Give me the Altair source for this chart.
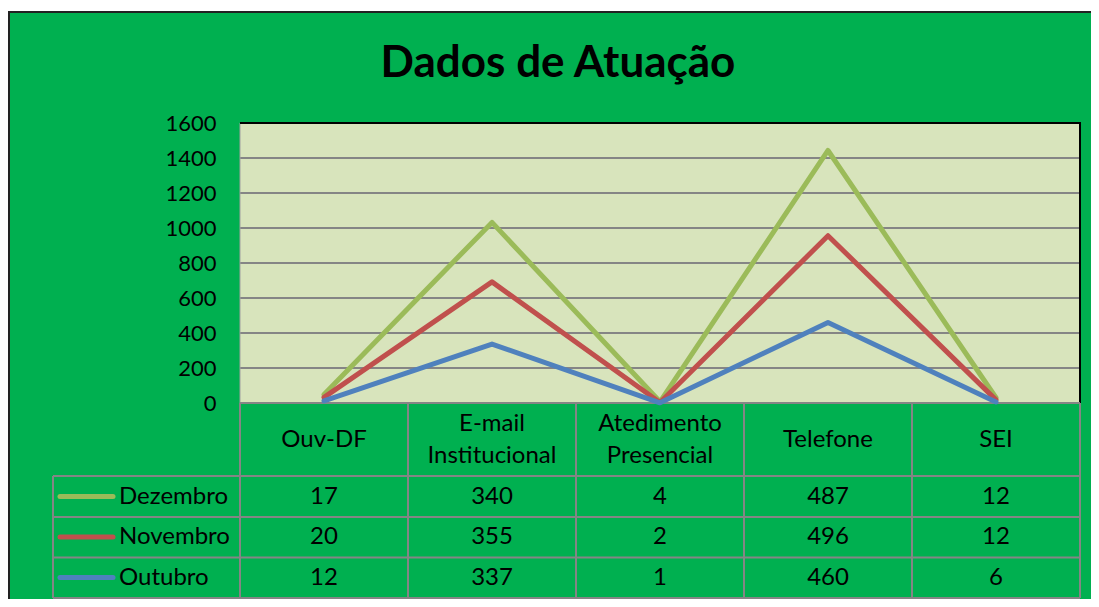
import altair as alt
import pandas as pd

# ---- data ----
categories = ["Ouv-DF", "E-mail Institucional", "Atedimento Presencial", "Telefone", "SEI"]
series_names = ["Dezembro", "Novembro", "Outubro"]
dezembro = [17, 340, 4, 487, 12]
novembro = [20, 355, 2, 496, 12]
outubro = [12, 337, 1, 460, 6]
y_ticks = [0, 200, 400, 600, 800, 1000, 1200, 1400, 1600]
gridline_values = [200, 400, 600, 800, 1000, 1200, 1400]
series_colors = ["#9BBB59", "#C0504D", "#4F81BD"]
stack_rank = {"Outubro": 0, "Novembro": 1, "Dezembro": 2}

rows = []
for name, vals in zip(series_names, [dezembro, novembro, outubro]):
    for i, (c, v) in enumerate(zip(categories, vals)):
        rows.append({"category": c, "series": name, "value": v,
                     "rank": stack_rank[name], "idx": i})
df = pd.DataFrame(rows)
cat_df = pd.DataFrame({"category": categories})
ser_df = pd.DataFrame({"series": series_names})
grid_df = pd.DataFrame({"tick": gridline_values})
one = pd.DataFrame({"a": [0]})

FONT = "Lato"
GRAY = "#858585"
W, H = 840, 280
TB = 475  # table bottom (relative to plot top)

x_scale = alt.Scale(type="band", domain=categories, paddingInner=0, paddingOuter=0)
x_center = alt.X("category:N", scale=x_scale, axis=None, bandPosition=0.5)
x_edge = alt.X("category:N", scale=x_scale, axis=None, bandPosition=0)
row_scale = alt.Scale(type="point", domain=series_names, range=[373.5, 454.5], padding=0)
color_scale = alt.Scale(domain=series_names, range=series_colors)

# background panel
bg = alt.Chart(one).mark_rect(fill="#00B050", stroke="#222222", strokeWidth=2).encode(
    x=alt.value(-231), x2=alt.value(900), y=alt.value(-111), y2=alt.value(520))
plotfill = alt.Chart(one).mark_rect(fill="#D8E4BC").encode(
    x=alt.value(0), x2=alt.value(W), y=alt.value(0), y2=alt.value(H))

grid = alt.Chart(grid_df).mark_rule(color=GRAY, strokeWidth=2).encode(
    y=alt.Y("tick:Q", scale=alt.Scale(domain=[0, 1600], nice=False), axis=None))

left_edge = alt.Chart(one).mark_rule(color="#A0A0A0", strokeWidth=1).encode(
    x=alt.value(0), y=alt.value(0), y2=alt.value(H))
top_border = alt.Chart(one).mark_rule(color="black", strokeWidth=2).encode(
    x=alt.value(0), x2=alt.value(W + 1), y=alt.value(0))
right_border = alt.Chart(one).mark_rule(color="black", strokeWidth=2).encode(
    x=alt.value(W), y=alt.value(0), y2=alt.value(H))


def hrule(y, x0, x1):
    return alt.Chart(one).mark_rule(color=GRAY, strokeWidth=2).encode(
        x=alt.value(x0), x2=alt.value(x1), y=alt.value(y))


def vrule(x, y0, y1):
    return alt.Chart(one).mark_rule(color=GRAY, strokeWidth=2).encode(
        x=alt.value(x), y=alt.value(y0), y2=alt.value(y1))


table_lines = [
    hrule(H, 0, W),
    hrule(353, -187, W),
    hrule(394, -187, W),
    hrule(434.5, -187, W),
    hrule(TB, -187, W),
    vrule(W, H, TB),
    vrule(-187, 353, TB),
]
vcols = alt.Chart(cat_df).mark_rule(color=GRAY, strokeWidth=2).encode(
    x=x_edge, y=alt.value(H), y2=alt.value(TB))

lines = alt.Chart(df).transform_window(
    cum="sum(value)", groupby=["category"], sort=[alt.SortField("rank")]
).mark_line(strokeWidth=5, strokeCap="round", strokeJoin="round").encode(
    x=x_center,
    y=alt.Y("cum:Q", scale=alt.Scale(domain=[0, 1600], nice=False),
            axis=alt.Axis(values=y_ticks, format="d", grid=False, ticks=False,
                          domain=False, labelPadding=24, labelFont=FONT,
                          labelFontSize=22, labelColor="black", title=None,
                          zindex=1)),
    color=alt.Color("series:N", scale=color_scale, legend=None),
    order=alt.Order("idx:Q"),
)

headers_one = alt.Chart(cat_df).transform_filter(
    "indexof(datum.category, ' ') < 0"
).mark_text(font=FONT, fontSize=24, color="black", baseline="middle",
            align="center").encode(
    x=x_center, y=alt.value(316.5), text="category:N")

headers_two = alt.Chart(cat_df).transform_filter(
    "indexof(datum.category, ' ') >= 0"
).mark_text(font=FONT, fontSize=24, color="black", lineBreak=" ", lineHeight=32,
            baseline="middle", align="center").encode(
    x=x_center, y=alt.value(300.5), text="category:N")

values = alt.Chart(df).mark_text(
    font=FONT, fontSize=24, color="black", baseline="middle", align="center").encode(
    x=x_center,
    y=alt.Y("series:N", scale=row_scale, axis=None),
    text=alt.Text("value:Q", format="d"))

swatches = alt.Chart(ser_df).mark_rule(strokeWidth=5, strokeCap="round").encode(
    x=alt.value(-180), x2=alt.value(-127),
    y=alt.Y("series:N", scale=row_scale, axis=None),
    color=alt.Color("series:N", scale=color_scale, legend=None))

legend_labels = alt.Chart(ser_df).mark_text(
    font=FONT, fontSize=24, color="black", baseline="middle", align="left").encode(
    x=alt.value(-121),
    y=alt.Y("series:N", scale=row_scale, axis=None),
    text="series:N")

title = alt.Chart(one).mark_text(
    text="Dados de Atuação", font=FONT, fontSize=44, fontWeight="bold",
    color="black", align="center", baseline="alphabetic").encode(
    x=alt.value(318), y=alt.value(-46))

chart = alt.layer(
    bg, plotfill, grid, left_edge, top_border, right_border,
    *table_lines, vcols, lines, headers_one, headers_two, values, swatches,
    legend_labels, title
).resolve_scale(y="independent").properties(
    width=W, height=H,
    autosize=alt.AutoSizeParams(type="none"),
    padding={"left": 232, "top": 115, "right": 11, "bottom": 196},
    background="white",
).configure_view(stroke=None)

chart.save("out.html", embed_options={"renderer": "svg", "actions": False})
